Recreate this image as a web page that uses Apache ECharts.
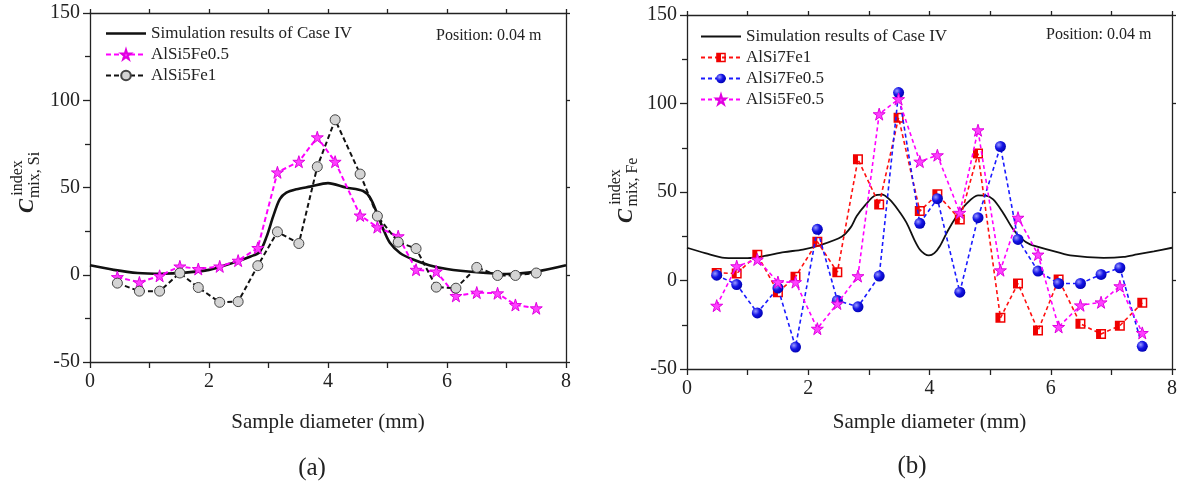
<!DOCTYPE html>
<html><head><meta charset="utf-8">
<script src="https://cdn.jsdelivr.net/npm/echarts@6/dist/echarts.min.js"></script>
<style>html,body{margin:0;padding:0;background:#fff}#c{width:1182px;height:491px}</style>
</head><body><div id="c"></div>
<script>
// ---------- data ----------
const xTickLabels = ['0', '2', '4', '6', '8'];
const yTickLabels = ['-50', '0', '50', '100', '150'];

// (a) Si
const siSampleX = [0.46,0.83,1.17,1.51,1.82,2.18,2.49,2.82,3.15,3.51,3.82,4.12,4.54,4.83,5.18,5.48,5.82,6.15,6.5,6.85,7.15,7.5];
const siAlSi5Fe05 = [-1.3,-4.4,-0.6,4.8,3.3,4.8,8.1,15.4,58.7,64.8,78.8,64.8,34,27.3,22.1,2.9,1.9,-12.1,-10.2,-10.6,-17.3,-19.2];
const siAlSi5Fe1 = [-4.8,-9.4,-9.4,1.0,-7.3,-15.8,-15.4,5.2,24.6,17.9,61.9,88.8,57.7,33.6,18.7,15,-7.1,-7.7,4.2,-0.4,-0.4,1.0];
const siSimX = [0,0.4,0.8,1.2,1.6,2.0,2.4,2.7,2.85,2.97,3.08,3.19,3.3,3.47,3.7,4.0,4.3,4.59,4.71,4.82,4.93,5.04,5.21,5.43,5.7,6.0,6.5,7.0,7.5,8.0];
const siSimY = [5.4,2.8,1.0,0.6,1.2,2.8,6.8,10.5,13,22,33.6,43.3,47,49,50.5,52.5,50,48,44,35.6,26,18.3,12.5,8.7,5.5,3.3,1.4,0.4,1.8,5.4];

// (b) Fe
const feSampleX = [0.49,0.82,1.16,1.5,1.79,2.15,2.48,2.82,3.17,3.49,3.84,4.13,4.5,4.8,5.17,5.46,5.79,6.13,6.49,6.83,7.14,7.51];
const feAlSi7Fe1 = [4.3,4.0,14.5,-6.6,2.1,21.9,4.7,68.5,43,92,39.2,48.7,34.5,71.7,-21.1,-1.7,-28.3,0.6,-24.5,-30.2,-25.5,-12.6];
const feAlSi7Fe05 = [3.0,-2.3,-18.3,-4.2,-37.6,28.9,-11.3,-14.9,2.5,106.2,32.3,46.2,-6.6,35.5,75.7,23.2,5.3,-1.7,-1.7,3.4,7.2,-37.2];
const feAlSi5Fe05 = [-14.2,8.1,11.9,-0.9,-0.9,-27.2,-13.0,2.5,94,102.5,67.2,70.8,38.3,84.9,5.8,35.5,14.7,-26.2,-14,-12.3,-3.2,-29.6];
const feSimX = [0,0.3,0.62,1.0,1.25,1.6,1.91,2.2,2.55,2.7,2.8,2.95,3.1,3.22,3.34,3.48,3.62,3.75,3.84,3.92,3.99,4.08,4.17,4.3,4.45,4.6,4.8,4.93,5.05,5.2,5.38,5.52,5.66,6.0,6.32,6.87,7.2,7.42,7.7,8.0];
const feSimY = [18.5,15.5,12.8,12.6,13.6,16,17.5,20,24.7,30,36.4,43,48,48.5,45.8,40,32.7,23,17.5,15,14.2,15.5,19.4,28,36.4,43,48.1,48,45.8,39,28.9,23.5,20.4,17,14.2,12.8,13.3,14.7,16.5,18.5];

const SIM = 'Simulation results of Case IV';
const SUF = ' (b)';

// ---------- helpers ----------
const zip = (xs, ys) => xs.map((x, i) => [x, ys[i]]);
const SERIF = '"Liberation Serif","Times New Roman",serif';
const STAR = 'path://M50,0 L61,35 L98,35 L68,57 L79,91 L50,70 L21,91 L32,57 L2,35 L39,35 Z';
const HALFSQ = 'path://M0,0 H10 V10 H0 Z M5,1.5 V8.5 H8.5 V1.5 Z';
const LINE_THICK = 'path://M0,0 H0.01 V0.01 H0 Z M0,4.7 H40 V7.3 H0 Z M0,11.99 H0.01 V12 H0 Z';
const LINE_THIN = 'path://M0,0 H0.01 V0.01 H0 Z M0,5.1 H40 V6.9 H0 Z M0,11.99 H0.01 V12 H0 Z';

function xAxes(gi, gap) {
  const base = {
    type: 'value', gridIndex: gi, min: 0, max: 8, interval: 1,
    axisLine: { show: true, onZero: false, lineStyle: { color: '#222', width: 1.3 } },
    axisTick: { show: true, inside: false, length: 6, lineStyle: { color: '#222', width: 1.3 } },
    minorTick: { show: false },
    splitLine: { show: false }
  };
  return [
    Object.assign({}, base, {
      position: 'bottom',
      axisLabel: { show: true, margin: 10, color: '#222', fontFamily: SERIF, fontSize: 20,
        formatter: v => (xTickLabels.indexOf(String(v)) >= 0 ? String(v) : '') },
      name: 'Sample diameter (mm)', nameLocation: 'middle', nameGap: gap,
      nameTextStyle: { color: '#222', fontFamily: SERIF, fontSize: 21 }
    }),
    Object.assign({}, base, { position: 'top', axisLabel: { show: false },
      axisTick: { show: true, length: 4, lineStyle: { color: '#222', width: 1.3 } } })
  ];
}
function yAxes(gi) {
  const base = {
    type: 'value', gridIndex: gi, min: -50, max: 150, interval: 50,
    axisLine: { show: true, onZero: false, lineStyle: { color: '#222', width: 1.3 } },
    axisTick: { show: true, inside: false, length: 7, lineStyle: { color: '#222', width: 1.3 } },
    minorTick: { show: true, splitNumber: 2, length: 5, lineStyle: { color: '#222', width: 1.3 } },
    splitLine: { show: false }, minorSplitLine: { show: false }
  };
  return [
    Object.assign({}, base, {
      position: 'left',
      axisLabel: { show: true, margin: 10, color: '#222', fontFamily: SERIF, fontSize: 20,
        formatter: v => (yTickLabels.indexOf(String(v)) >= 0 ? String(v) : '') }
    }),
    Object.assign({}, base, { position: 'right', axisLabel: { show: false },
      axisTick: { show: true, length: 4, lineStyle: { color: '#222', width: 1.3 } },
      minorTick: { show: false } })
  ];
}

const xs = xAxes(0, 50).concat(xAxes(1, 43));
const ys = yAxes(0).concat(yAxes(1));

const magStar = {
  symbol: STAR, symbolSize: 12,
  itemStyle: { color: '#ff40ff', borderColor: '#e000e0', borderWidth: 1 },
  lineStyle: { color: '#ff00ff', width: 2, type: [5, 3] }
};

const series = [
  { name: SIM, type: 'line', xAxisIndex: 0, yAxisIndex: 0, data: zip(siSimX, siSimY),
    smooth: 0.3, symbol: 'none', showSymbol: false,
    lineStyle: { color: '#111', width: 2.6 }, itemStyle: { color: '#111' }, z: 2 },
  Object.assign({ name: 'AlSi5Fe0.5', type: 'line', xAxisIndex: 0, yAxisIndex: 0,
    data: zip(siSampleX, siAlSi5Fe05), z: 3 }, magStar),
  { name: 'AlSi5Fe1', type: 'line', xAxisIndex: 0, yAxisIndex: 0, data: zip(siSampleX, siAlSi5Fe1),
    symbol: 'circle', symbolSize: 10,
    itemStyle: { color: '#d4d4d4', borderColor: '#444', borderWidth: 1 },
    lineStyle: { color: '#111', width: 2, type: [5, 3] }, z: 4 },

  { name: SIM + SUF, type: 'line', xAxisIndex: 2, yAxisIndex: 2, data: zip(feSimX, feSimY),
    smooth: 0.3, symbol: 'none', showSymbol: false,
    lineStyle: { color: '#111', width: 1.8 }, itemStyle: { color: '#111' }, z: 2 },
  { name: 'AlSi7Fe1', type: 'line', xAxisIndex: 2, yAxisIndex: 2, data: zip(feSampleX, feAlSi7Fe1),
    symbol: HALFSQ, symbolSize: 10,
    itemStyle: { color: '#f00000' },
    lineStyle: { color: '#ff1010', width: 1.6, type: [4, 3] }, z: 3 },
  { name: 'AlSi7Fe0.5', type: 'line', xAxisIndex: 2, yAxisIndex: 2, data: zip(feSampleX, feAlSi7Fe05),
    symbol: 'circle', symbolSize: 11,
    itemStyle: { color: { type: 'radial', x: 0.35, y: 0.35, r: 0.7,
      colorStops: [{ offset: 0, color: '#9a9aff' }, { offset: 0.5, color: '#1515e6' }, { offset: 1, color: '#0000b0' }] } },
    lineStyle: { color: '#1a1aff', width: 1.6, type: [4, 3] }, z: 4 },
  Object.assign({ name: 'AlSi5Fe0.5' + SUF, type: 'line', xAxisIndex: 2, yAxisIndex: 2,
    data: zip(feSampleX, feAlSi5Fe05), z: 5 }, magStar, {
    lineStyle: { color: '#ff00ff', width: 1.6, type: [4, 3] } })
];

const legendText = { color: '#222', fontFamily: SERIF, fontSize: 17, lineHeight: 21 };
const fmt = n => n.replace(SUF, '');

function tx(x, y, text, size, opts) {
  return Object.assign({ type: 'text', x: x, y: y, silent: true,
    style: Object.assign({ text: text, fill: '#222', fontFamily: SERIF, fontSize: size,
      textAlign: 'center', textVerticalAlign: 'middle' }, (opts && opts.style) || {}) },
    opts && opts.rotation !== undefined ? { rotation: opts.rotation } : {});
}
const R = Math.PI / 2;

const option = {
  animation: false,
  backgroundColor: '#fff',
  grid: [
    { left: 90, top: 13, width: 476, height: 349 },
    { left: 687, top: 15, width: 485, height: 354 }
  ],
  xAxis: xs,
  yAxis: ys,
  legend: [
    { orient: 'vertical', left: 100, top: 18, itemWidth: 40, itemHeight: 12, itemGap: 0,
      data: [{ name: SIM, icon: LINE_THICK }, 'AlSi5Fe0.5', 'AlSi5Fe1'],
      textStyle: legendText, formatter: fmt, selectedMode: false },
    { orient: 'vertical', left: 695, top: 21, itemWidth: 40, itemHeight: 12, itemGap: 0,
      data: [{ name: SIM + SUF, icon: LINE_THIN }, 'AlSi7Fe1', 'AlSi7Fe0.5', 'AlSi5Fe0.5' + SUF],
      textStyle: legendText, formatter: fmt, selectedMode: false }
  ],
  graphic: [
    tx(436, 36, 'Position: 0.04 m', 16, { style: { textAlign: 'left' } }),
    tx(1046, 35, 'Position: 0.04 m', 16, { style: { textAlign: 'left' } }),
    tx(312, 468, '(a)', 25),
    tx(912, 466, '(b)', 25),
    tx(28, 206, 'C', 21, { rotation: R, style: { fontStyle: 'italic', fontWeight: 'bold' } }),
    tx(18, 178, 'index', 16, { rotation: R }),
    tx(35, 175, 'mix, Si', 16, { rotation: R }),
    tx(627, 216, 'C', 21, { rotation: R, style: { fontStyle: 'italic', fontWeight: 'bold' } }),
    tx(616, 187, 'index', 16, { rotation: R }),
    tx(633, 182, 'mix, Fe', 16, { rotation: R })
  ],
  series: series
};

const chart = echarts.init(document.getElementById('c'), null, { renderer: 'canvas' });
chart.setOption(option);
</script>
</body></html>
